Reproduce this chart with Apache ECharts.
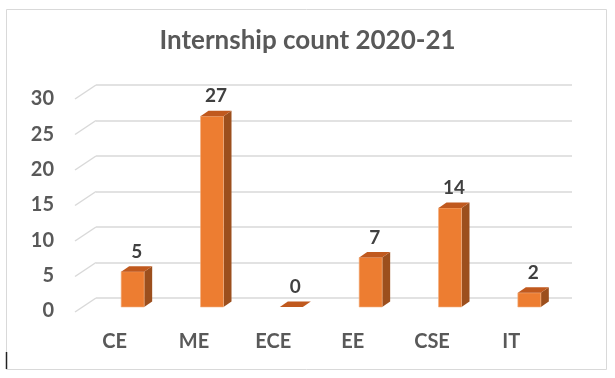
<!DOCTYPE html>
<html>
<head>
<meta charset="utf-8">
<script src="https://cdn.jsdelivr.net/npm/echarts@6/dist/echarts.min.js"></script>
<style>
  html, body { margin: 0; padding: 0; background: #fff; }
  #chart { width: 615px; height: 378px; }
</style>
</head>
<body>
<div id="chart"></div>
<script>
const categories = ['CE', 'ME', 'ECE', 'EE', 'CSE', 'IT'];
const counts = [5, 27, 0, 7, 14, 2];
const yTicks = [0, 5, 10, 15, 20, 25, 30];

const FONT = 'Lato, "Open Sans", sans-serif';
const WALL_DX = -21, WALL_DY = 14;   // back wall -> front edge
const BAR_DX = 8, BAR_DY = -5.5;     // bar depth
const BAR_W = 23;

const chart = echarts.init(document.getElementById('chart'));

const valueAxis = (idx, show) => ({
  type: 'value', gridIndex: idx, min: yTicks[0], max: yTicks[yTicks.length - 1], interval: 5,
  axisLine: { show: false }, axisTick: { show: false },
  axisLabel: { show: show, color: '#595959', fontSize: 20, fontWeight: 'bold', fontFamily: FONT, margin: 21 },
  splitLine: { show: idx === 0, lineStyle: { color: '#d9d9d9', width: 1.5 } }
});
const catAxis = (idx, show) => ({
  type: 'category', gridIndex: idx, data: categories,
  axisLine: { show: false }, axisTick: { show: false },
  axisLabel: { show: show, color: '#595959', fontSize: 20, fontWeight: 'bold', fontFamily: FONT, margin: 21 }
});

chart.setOption({
  animation: false,
  backgroundColor: '#fff',
  title: {
    text: 'Internship count 2020-21', left: 'center', top: 23,
    textStyle: { color: '#595959', fontSize: 26, fontWeight: 'bold', fontFamily: FONT }
  },
  graphic: [
    { type: 'rect', shape: { x: 6.5, y: 9.5, width: 600, height: 360 }, style: { fill: 'none', stroke: '#d9d9d9', lineWidth: 1 } },
    { type: 'line', shape: { x1: 6.5, y1: 352, x2: 6.5, y2: 369 }, style: { stroke: '#222', lineWidth: 1.5 } }
  ],
  grid: [
    { left: 96, top: 85, width: 476, height: 213 },   // back wall
    { left: 75, top: 99, width: 476, height: 212 },   // front plane (labels)
    { left: 93, top: 95, width: 476, height: 212 }    // bars
  ],
  xAxis: [catAxis(0, false), catAxis(1, true), catAxis(2, false)],
  yAxis: [valueAxis(0, false), valueAxis(1, true), valueAxis(2, false)],
  series: [
    {
      type: 'custom', xAxisIndex: 0, yAxisIndex: 0, silent: true,
      data: yTicks.map(v => [0, v]),
      renderItem: (params, api) => {
        const p = api.coord([0, api.value(1)]);
        const x0 = params.coordSys.x;
        return {
          type: 'line',
          shape: { x1: x0, y1: p[1], x2: x0 + WALL_DX, y2: p[1] + WALL_DY },
          style: { stroke: '#d9d9d9', lineWidth: 1.5 }
        };
      }
    },
    {
      type: 'custom', xAxisIndex: 2, yAxisIndex: 2, silent: true,
      data: counts.map((v, i) => [i, v]),
      renderItem: (params, api) => {
        const top = api.coord([api.value(0), api.value(1)]);
        const base = api.coord([api.value(0), 0]);
        const x0 = top[0] - BAR_W / 2, x1 = top[0] + BAR_W / 2;
        const yT = top[1], yB = base[1];
        const children = [];
        if (yB - yT > 0.5) {
          children.push({
            type: 'polygon',
            shape: { points: [[x1, yT], [x1 + BAR_DX, yT + BAR_DY], [x1 + BAR_DX, yB + BAR_DY], [x1, yB]] },
            style: { fill: '#9c4f1d' }
          });
          children.push({
            type: 'rect', shape: { x: x0, y: yT, width: BAR_W, height: yB - yT },
            style: { fill: '#ed7d31', stroke: '#f4b183', lineWidth: 0.6 }
          });
        }
        children.push({
          type: 'polygon',
          shape: { points: [[x0, yT], [x1, yT], [x1 + BAR_DX, yT + BAR_DY], [x0 + BAR_DX, yT + BAR_DY]] },
          style: { fill: '#c0591e' }
        });
        children.push({
          type: 'text',
          style: {
            text: String(api.value(1)), x: top[0] + BAR_DX / 2, y: yT - 20,
            align: 'center', verticalAlign: 'middle',
            fill: '#404040', fontSize: 19, fontWeight: 'bold', fontFamily: FONT
          }
        });
        return { type: 'group', children: children };
      }
    }
  ]
});
</script>
</body>
</html>
